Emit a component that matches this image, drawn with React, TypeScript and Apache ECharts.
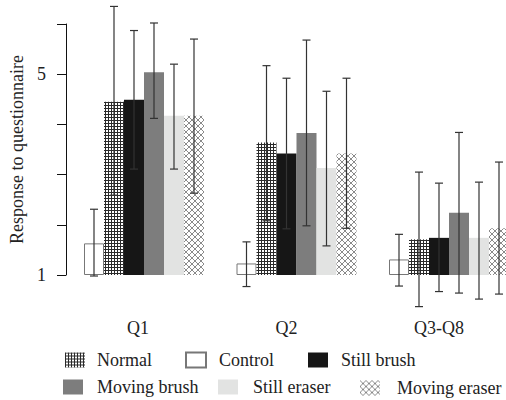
import React, { useEffect, useRef } from "react";
import * as echarts from "echarts";

const categories = ["Q1", "Q2", "Q3-Q8"];
const yTickLabels = [1, 5];

const controlMean = [1.63, 1.23, 1.31];
const normalMean = [4.45, 3.64, 1.71];
const stillBrushMean = [4.49, 3.42, 1.74];
const movingBrushMean = [5.04, 3.83, 2.24];
const stillEraserMean = [4.17, 3.13, 1.74];
const movingEraserMean = [4.17, 3.42, 1.93];

const controlLow = [0.98, 0.77, 0.78];
const controlHigh = [2.31, 1.66, 1.81];
const normalLow = [2.59, 2.08, 0.37];
const normalHigh = [6.35, 5.17, 3.05];
const stillBrushLow = [3.11, 1.92, 0.67];
const stillBrushHigh = [5.87, 4.92, 2.83];
const movingBrushLow = [4.12, 1.98, 0.64];
const movingBrushHigh = [6.02, 5.68, 3.84];
const stillEraserLow = [3.11, 1.58, 0.52];
const stillEraserHigh = [5.2, 4.66, 2.85];
const movingEraserLow = [2.63, 1.93, 0.62];
const movingEraserHigh = [5.7, 4.92, 3.25];

const FONT = "Liberation Serif";

function gridPattern(): HTMLCanvasElement {
  const c = document.createElement("canvas");
  c.width = 3;
  c.height = 3;
  const ctx = c.getContext("2d")!;
  ctx.fillStyle = "#ffffff";
  ctx.fillRect(0, 0, 3, 3);
  ctx.fillStyle = "#2a2a2a";
  ctx.fillRect(0, 0, 3, 1);
  ctx.fillRect(0, 0, 1, 3);
  return c;
}

function crossPattern(): HTMLCanvasElement {
  const c = document.createElement("canvas");
  c.width = 6;
  c.height = 6;
  const ctx = c.getContext("2d")!;
  ctx.fillStyle = "#ffffff";
  ctx.fillRect(0, 0, 6, 6);
  ctx.strokeStyle = "#8a8a8a";
  ctx.lineWidth = 1;
  ctx.beginPath();
  ctx.moveTo(0, 0);
  ctx.lineTo(6, 6);
  ctx.moveTo(6, 0);
  ctx.lineTo(0, 6);
  ctx.stroke();
  return c;
}

export default function App() {
  const ref = useRef<HTMLDivElement>(null);
  useEffect(() => {
    if (!ref.current) return;
    const chart = echarts.init(ref.current, null, { renderer: "svg" });
    const gp = gridPattern();
    const cp = crossPattern();
    const series = [
      { name: "Control", mean: controlMean, low: controlLow, high: controlHigh, itemStyle: { color: "#ffffff", borderColor: "#777777", borderWidth: 1 } },
      { name: "Normal", mean: normalMean, low: normalLow, high: normalHigh, itemStyle: { color: { image: gp, repeat: "repeat", imageWidth: 3, imageHeight: 3 } } },
      { name: "Still brush", mean: stillBrushMean, low: stillBrushLow, high: stillBrushHigh, itemStyle: { color: "#161616" } },
      { name: "Moving brush", mean: movingBrushMean, low: movingBrushLow, high: movingBrushHigh, itemStyle: { color: "#7d7d7d" } },
      { name: "Still eraser", mean: stillEraserMean, low: stillEraserLow, high: stillEraserHigh, itemStyle: { color: "#e2e3e2" } },
      { name: "Moving eraser", mean: movingEraserMean, low: movingEraserLow, high: movingEraserHigh, itemStyle: { color: { image: cp, repeat: "repeat", imageWidth: 6, imageHeight: 6 } } },
    ];
    const BAR_W = 20;
    const errData: number[][] = [];
    series.forEach((s, si) => {
      categories.forEach((_, ci) => errData.push([ci, si, s.low[ci], s.high[ci]]));
    });
    // [left, top, text gap]
    const legendPos: Record<string, [number, number, number]> = {
      Normal: [65, 351, 7],
      Control: [185, 351, 8],
      "Still brush": [308, 351, 8],
      "Moving brush": [63, 378, 9],
      "Still eraser": [218, 378, 10],
      "Moving eraser": [360, 379, 12],
    };
    const labelShift = [12, 20, 20];
    const option: any = {
      animation: false,
      grid: { left: 144, right: 57, top: 24, bottom: 125 },
      legend: Object.keys(legendPos).map((name) => ({
        data: [name],
        left: legendPos[name][0],
        top: legendPos[name][1],
        padding: 0,
        itemWidth: 20,
        itemHeight: 15,
        icon: "rect",
        selectedMode: false,
        textStyle: { fontFamily: FONT, fontSize: 18, color: "#222", padding: [0, 0, 0, legendPos[name][2]] },
      })),
      xAxis: {
        type: "category",
        data: categories,
        boundaryGap: false,
        axisLine: { show: false },
        axisTick: { show: false },
        axisLabel: {
          margin: 44,
          fontFamily: FONT,
          fontSize: 18,
          color: "#222",
          formatter: (v: string, i: number) => `{s${i}|${v}}`,
          rich: {
            s0: { fontFamily: FONT, fontSize: 18, color: "#222", padding: [0, labelShift[0], 0, 0] },
            s1: { fontFamily: FONT, fontSize: 18, color: "#222", padding: [0, labelShift[1], 0, 0] },
            s2: { fontFamily: FONT, fontSize: 18, color: "#222", padding: [0, labelShift[2], 0, 0] },
          },
        },
      },
      yAxis: {
        type: "value",
        min: 1,
        max: 6,
        interval: 1,
        startValue: 1,
        offset: 78,
        name: "Response to questionnaire",
        nameLocation: "middle",
        nameGap: 40,
        nameTextStyle: { fontFamily: FONT, fontSize: 18, color: "#222" },
        axisLine: { show: true, lineStyle: { color: "#111", width: 1 } },
        axisTick: { show: true, length: 9, lineStyle: { color: "#111" } },
        splitLine: { show: false },
        axisLabel: {
          margin: 20,
          fontFamily: FONT,
          fontSize: 18,
          color: "#222",
          formatter: (v: number) => (yTickLabels.includes(v) ? String(v) : ""),
        },
      },
      series: [
        ...series.map((s) => ({
          type: "bar",
          name: s.name,
          data: s.mean,
          barWidth: BAR_W,
          barGap: "0%",
          clip: false,
          itemStyle: s.itemStyle,
        })),
        {
          type: "custom",
          name: "err",
          data: errData,
          clip: false,
          encode: { x: 0, y: [2, 3] },
          z: 10,
          renderItem: (params: any, api: any) => {
            const ci = api.value(0);
            const si = api.value(1);
            const lo = api.coord([ci, api.value(2)]);
            const hi = api.coord([ci, api.value(3)]);
            const x = lo[0] + (si - 2.5) * BAR_W;
            const st = { stroke: "#333", lineWidth: 1.2 };
            return {
              type: "group",
              children: [
                { type: "line", shape: { x1: x, y1: lo[1], x2: x, y2: hi[1] }, style: st },
                { type: "line", shape: { x1: x - 4, y1: lo[1], x2: x + 4, y2: lo[1] }, style: st },
                { type: "line", shape: { x1: x - 4, y1: hi[1], x2: x + 4, y2: hi[1] }, style: st },
              ],
            };
          },
        },
      ],
    };
    chart.setOption(option);
    return () => chart.dispose();
  }, []);
  return <div ref={ref} style={{ position: "absolute", left: 0, top: 0, width: 506, height: 400, background: "#fff" }} />;
}
